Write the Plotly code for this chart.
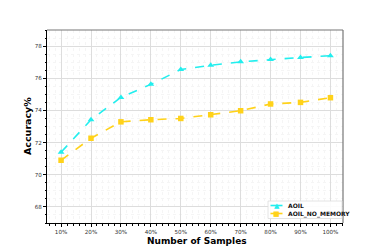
import plotly.graph_objects as go

categories = ["10%", "20%", "30%", "40%", "50%", "60%", "70%", "80%", "90%", "100%"]
aoil = [71.4, 73.42, 74.81, 75.62, 76.54, 76.81, 77.02, 77.17, 77.29, 77.4]
aoil_no_memory = [70.9, 72.27, 73.29, 73.42, 73.5, 73.73, 73.98, 74.4, 74.5, 74.79]
y_ticks = [68, 70, 72, 74, 76, 78]
series_names = ["AOIL", "AOIL_NO_MEMORY"]
series_colors = ["#22EEEE", "#FFD21A"]
series_symbols = ["triangle-up", "square"]
legend_glyphs = ["▲", "■"]

x_idx = list(range(len(categories)))

# page body has 8px default margin; figure sized to fit the 382x251 window
W, H = 374, 243
L, R, T, B = 39, 39, 22, 28

fig = go.Figure()
for name, vals, col, sym in zip(series_names, [aoil, aoil_no_memory], series_colors, series_symbols):
    fig.add_trace(go.Scatter(
        x=x_idx, y=vals, name=name, mode="lines+markers",
        line=dict(color=col, width=1.6, dash="dash"),
        marker=dict(symbol=sym, size=6 if sym == "triangle-up" else 5.5, color=col),
        showlegend=False,
    ))

fig.update_layout(
    width=W, height=H,
    margin=dict(l=L, r=R, t=T, b=B, autoexpand=False),
    paper_bgcolor="white", plot_bgcolor="white",
    font=dict(family="DejaVu Sans", size=5.6, color="#333333"),
    showlegend=False,
)
fig.update_xaxes(
    range=[-0.47, 9.42], automargin=False,
    tickvals=x_idx, ticktext=categories,
    showline=True, linecolor="black", linewidth=1,
    ticks="outside", ticklen=3, tickcolor="black",
    showgrid=True, gridcolor="#DDDDDD", gridwidth=1,
    minor=dict(dtick=0.2, tick0=0, ticks="outside", ticklen=1.5, tickcolor="black",
               showgrid=True, gridcolor="#F5F5F5", gridwidth=0.6, griddash="dot"),
    zeroline=False,
)
fig.update_yaxes(
    range=[67, 79], automargin=False,
    tickvals=y_ticks,
    showline=True, linecolor="black", linewidth=1,
    ticks="outside", ticklen=3, tickcolor="black",
    showgrid=True, gridcolor="#DDDDDD", gridwidth=1,
    minor=dict(dtick=0.5, ticks="outside", ticklen=1.5, tickcolor="black",
               showgrid=True, gridcolor="#F5F5F5", gridwidth=0.6, griddash="dot"),
    zeroline=False,
)
fig.add_shape(type="line", xref="paper", yref="paper", x0=0, x1=1, y0=1, y1=1,
              line=dict(color="#777777", width=1.2))
fig.add_shape(type="line", xref="paper", yref="paper", x0=1, x1=1, y0=0, y1=1,
              line=dict(color="#777777", width=1.2))

# positions given in window pixels
OFF = 8
pw, ph = W - L - R, H - T - B
def px(xp):
    return (xp - OFF - L) / pw
def py(yp):
    return (H - B - (yp - OFF)) / ph

# axis titles
fig.add_annotation(xref="paper", yref="paper", x=px(196.5), y=py(241.5),
                   text="<b>Number of Samples</b>", showarrow=False,
                   xanchor="center", yanchor="middle",
                   font=dict(size=9, color="black", family="DejaVu Sans"))
fig.add_annotation(xref="paper", yref="paper", x=px(27.5), y=py(126.5),
                   text="<b>Accuracy%</b>", showarrow=False, textangle=-90,
                   xanchor="center", yanchor="middle",
                   font=dict(size=9.5, color="black", family="DejaVu Sans"))

# compact legend (bottom right)
fig.add_shape(type="rect", xref="paper", yref="paper",
              x0=px(268), x1=px(342), y0=py(218.5), y1=py(201),
              line=dict(color="#DDDDDD", width=0.8), fillcolor="rgba(255,255,255,0.9)")
for i, (name, col, glyph) in enumerate(zip(series_names, series_colors, legend_glyphs)):
    yc = 205.5 + i * 8
    fig.add_shape(type="line", xref="paper", yref="paper",
                  x0=px(270.5), x1=px(282.5), y0=py(yc), y1=py(yc),
                  line=dict(color=col, width=1.6))
    fig.add_annotation(xref="paper", yref="paper", x=px(276.5), y=py(yc),
                       text=glyph, showarrow=False, xanchor="center", yanchor="middle",
                       font=dict(size=7, color=col, family="DejaVu Sans"))
    fig.add_annotation(xref="paper", yref="paper", x=px(286), y=py(yc),
                       text="<b>" + name + "</b>", showarrow=False, xanchor="left", yanchor="middle",
                       font=dict(size=6, color="#111111", family="DejaVu Sans"))

fig.write_html("out.html")
